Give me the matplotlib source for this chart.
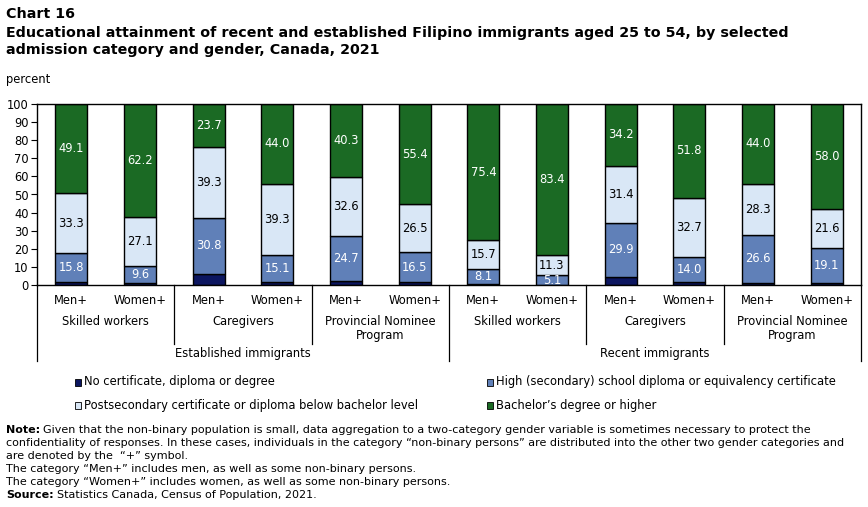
import matplotlib
matplotlib.use("Agg")
import matplotlib.pyplot as plt
import matplotlib.transforms as mtransforms
import numpy as np

plt.rcParams['font.family'] = ['DejaVu Sans']

genders = ["Men+", "Women+"] * 6
programs = ["Skilled workers", "Caregivers", "Provincial Nominee\nProgram"] * 2
periods = ["Established immigrants", "Recent immigrants"]

no_cert = [1.8, 1.1, 6.2, 1.6, 2.4, 1.6, 0.8, 0.2, 4.5, 1.5, 1.1, 1.3]
high_school = [15.8, 9.6, 30.8, 15.1, 24.7, 16.5, 8.1, 5.1, 29.9, 14.0, 26.6, 19.1]
postsec = [33.3, 27.1, 39.3, 39.3, 32.6, 26.5, 15.7, 11.3, 31.4, 32.7, 28.3, 21.6]
bachelor = [49.1, 62.2, 23.7, 44.0, 40.3, 55.4, 75.4, 83.4, 34.2, 51.8, 44.0, 58.0]

series_names = ["No certificate, diploma or degree",
                "High (secondary) school diploma or equivalency certificate",
                "Postsecondary certificate or diploma below bachelor level",
                "Bachelor\u2019s degree or higher"]
colors = ["#0c1660", "#6080b8", "#d9e7f6", "#1b6a24"]
label_colors = [None, "white", "black", "white"]

W, H = 868, 507
fig = plt.figure(figsize=(W / 100, H / 100), dpi=100)
ax = fig.add_axes([37 / W, 1 - 285 / H, (861 - 37) / W, (285 - 104) / H])

x = np.arange(len(genders))
bottom = np.zeros(len(x))
for vals, col, lc in zip([no_cert, high_school, postsec, bachelor], colors, label_colors):
    vals = np.array(vals)
    ax.bar(x, vals, 0.47, bottom=bottom, color=col, edgecolor="black", linewidth=1.0)
    if lc is not None:
        for xi, v, bt in zip(x, vals, bottom):
            ax.text(xi, bt + v / 2, f"{v:.1f}", ha="center", va="center", color=lc, fontsize=8.3)
    bottom += vals

ax.set_xlim(-0.5, 11.5)
ax.set_ylim(0, 100)
ax.set_yticks(np.arange(0, 101, 10))
ax.tick_params(axis="y", labelsize=8.3, length=4, width=0.8, pad=2)
ax.set_xticks([])
for s in ax.spines.values():
    s.set_linewidth(1.0)

trans = mtransforms.blended_transform_factory(ax.transData, fig.transFigure)
def fy(py):
    return 1 - py / H

for xi, g in zip(x, genders):
    ax.text(xi, fy(300), g, transform=trans, ha="center", va="center", fontsize=8.3)
for i, p in enumerate(programs):
    xc = 2 * i + 0.5
    ax.text(xc, fy(315), p, transform=trans, ha="center", va="top", fontsize=8.3, linespacing=1.1)
for i, p in enumerate(periods):
    xc = 6 * i + 2.5
    ax.text(xc, fy(354), p, transform=trans, ha="center", va="center", fontsize=8.3)
for xs in [1.5, 3.5, 7.5, 9.5]:
    ax.plot([xs, xs], [fy(285), fy(344)], transform=trans, color="black", lw=0.9, clip_on=False)
for xs in [-0.5, 5.5, 11.5]:
    ax.plot([xs, xs], [fy(285), fy(361)], transform=trans, color="black", lw=0.9, clip_on=False)

# legend
leg_pos = [(75, 382), (487, 382), (75, 405), (487, 405)]
for (px, py), col, name in zip(leg_pos, colors, series_names):
    fig.patches.append(plt.Rectangle((px / W, fy(py + 3.5)), 6 / W, 7 / H, transform=fig.transFigure,
                                     facecolor=col, edgecolor="black", linewidth=0.6))
    fig.text((px + 9) / W, fy(py), name, ha="left", va="center", fontsize=8.3)

fig.text(6 / W, fy(14), "Chart 16", fontsize=10.3, fontweight="bold", va="center")
fig.text(6 / W, fy(33), "Educational attainment of recent and established Filipino immigrants aged 25 to 54, by selected",
         fontsize=10.3, fontweight="bold", va="center")
fig.text(6 / W, fy(50), "admission category and gender, Canada, 2021",
         fontsize=10.3, fontweight="bold", va="center")
fig.text(6 / W, fy(79), "percent", fontsize=8.3, va="center")

fs = 8.0
renderer = fig.canvas.get_renderer()

def bold_lead(py, lead, rest):
    t = fig.text(6 / W, fy(py), lead, fontsize=fs, fontweight="bold", va="center")
    bb = t.get_window_extent(renderer=renderer)
    fig.text((bb.x1 + 3) / W, fy(py), rest, fontsize=fs, va="center")

sp = 13.0
y0 = 430
bold_lead(y0, "Note:", "Given that the non-binary population is small, data aggregation to a two-category gender variable is sometimes necessary to protect the")
fig.text(6 / W, fy(y0 + sp), "confidentiality of responses. In these cases, individuals in the category \u201cnon-binary persons\u201d are distributed into the other two gender categories and", fontsize=fs, va="center")
fig.text(6 / W, fy(y0 + 2 * sp), "are denoted by the  \u201c+\u201d symbol.", fontsize=fs, va="center")
fig.text(6 / W, fy(y0 + 3 * sp), "The category \u201cMen+\u201d includes men, as well as some non-binary persons.", fontsize=fs, va="center")
fig.text(6 / W, fy(y0 + 4 * sp), "The category \u201cWomen+\u201d includes women, as well as some non-binary persons.", fontsize=fs, va="center")
bold_lead(y0 + 5 * sp, "Source:", "Statistics Canada, Census of Population, 2021.")

fig.savefig("out.png", dpi=100)
